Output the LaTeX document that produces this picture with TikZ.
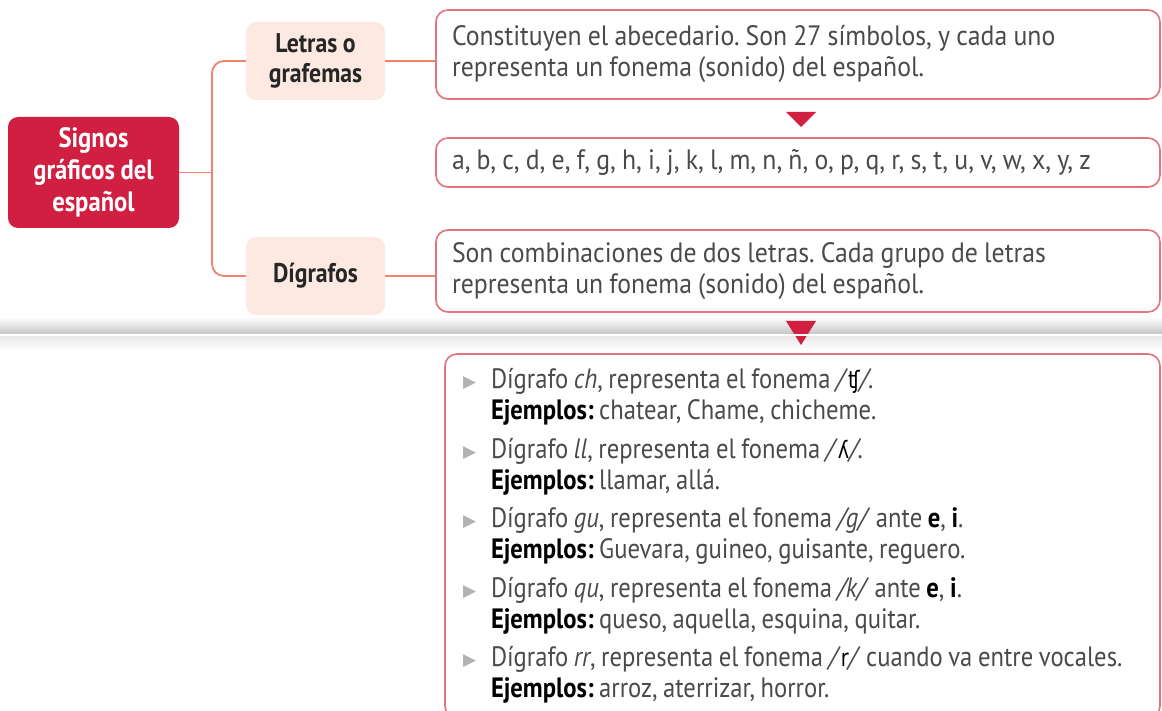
\documentclass[tikz,border=0pt]{standalone}
\usepackage{fontspec}
\setmainfont{PT Sans}[FakeStretch=0.88]
\newfontfamily\cajafont{PT Sans}[FakeStretch=0.92]
\newfontfamily\ipafont{DejaVu Sans}[FakeStretch=0.8]
\newfontfamily\symfont{DejaVu Sans}
\definecolor{signored}{HTML}{D11F41}
\definecolor{peach}{HTML}{FCE9E1}
\definecolor{boxline}{HTML}{E3737C}
\definecolor{salmon}{HTML}{F0826E}
\definecolor{bodygray}{HTML}{4A4A4A}
\newcommand{\fon}[1]{\textit{/}{\ipafont\color{black}\fontsize{24}{31}\selectfont#1}\textit{/}}
\newcommand{\vineta}{\makebox[28pt][l]{\color{gray!60}\symfont\fontsize{17}{17}\selectfont\raisebox{1pt}{▶}}}
\newcommand{\sangria}{\hspace*{28pt}}
\newcommand{\ej}{{\color{black}\bfseries Ejemplos:}}
\newcommand{\apretado}{\spaceskip=0.2em plus 0.04em minus 0.03em\relax}
\newcommand{\holgado}{\spaceskip=0.22em plus 0.04em minus 0.03em\relax}

\begin{document}
\frenchspacing
\begin{tikzpicture}[x=1pt, y=-1pt,
  font=\fontsize{28}{31}\selectfont,
  every node/.style={execute at begin node=\apretado},
  mainbox/.style={fill=signored, rounded corners=10pt, minimum width=171pt,
    minimum height=111pt, inner sep=0pt, text=white, align=center,
    font=\fontsize{28}{32}\selectfont\bfseries},
  catbox/.style={fill=peach, rounded corners=10pt, minimum width=139pt,
    minimum height=78pt, inner sep=0pt, text=black!85, align=center,
    font=\fontsize{27}{30}\selectfont\bfseries},
  textbox/.style={draw=boxline, line width=1.6pt, fill=white, rounded corners=12pt,
    inner xsep=16pt, inner ysep=0pt, text width=692pt, align=left, text=bodygray},
  ancho/.style={font=\cajafont\fontsize{28}{31}\selectfont, execute at begin node=\holgado},
  conn/.style={draw=salmon, line width=1.8pt},
  marca/.style={fill=signored}]
  \useasboundingbox (0,0) rectangle (1162,711);
  \fill[white] (0,0) rectangle (1162,711);

  % left part
  \node[mainbox] (signos) at (93.5,172.5) {Signos\\gráficos del\\español};
  \node[catbox] (letras) at (315.5,61) {Letras o\\grafemas};
  \node[catbox] (digrafos) at (315.5,276) {Dígrafos};
  \coordinate (split) at (212,172.5);
  \draw[conn] (signos.east) -- (split);
  \draw[conn, rounded corners=12pt] (letras.west) -| (split) |- (digrafos.west);

  % right boxes
  \node[textbox, ancho, minimum height=89pt] (defin) at (798,54.5)
    {Constituyen el abecedario. Son 27 símbolos, y cada uno\\
     representa un fonema (sonido) del español.};
  \node[textbox, ancho, minimum height=49pt] (abc) at (798,162.5)
    {a, b, c, d, e, f, g, h, i, j, k, l, m, n, ñ, o, p, q, r, s, t, u, v, w, x, y, z};
  \node[textbox, ancho, minimum height=82pt] (digdef) at (798,271)
    {Son combinaciones de dos letras. Cada grupo de letras\\
     representa un fonema (sonido) del español.};
  \draw[conn] (letras.east) -- (letras.east -| defin.west);
  \draw[conn] (digrafos.east) -- (digrafos.east -| digdef.west);
  \fill[marca] (786,112) -- (816,112) -- (801,127) -- cycle;

  % page seam
  \shade[top color=white, bottom color=gray!45] (0,317) rectangle (1162,334);
  \shade[top color=gray!18, bottom color=white] (0,336) rectangle (1162,350);
  \fill[marca] (786,321) -- (816,321) -- (801,345) -- cycle;
  \fill[white] (0,334) rectangle (1162,336.5);

  \node[textbox, inner xsep=18pt, text width=679pt, minimum height=364pt] (lista) at (802.5,536)
    {\mbox{\vineta Dígrafo \textit{ch}, representa el fonema \fon{ʧ}.}\\
     \mbox{\sangria\ej{} chatear, Chame, chicheme.}\\[7.5pt]
     \mbox{\vineta Dígrafo \textit{ll}, representa el fonema \fon{ʎ}.}\\
     \mbox{\sangria\ej{} llamar, allá.}\\[7.5pt]
     \mbox{\vineta Dígrafo \textit{gu}, representa el fonema \textit{/g/} ante {\color{black}\bfseries e}, {\color{black}\bfseries i}.}\\
     \mbox{\sangria\ej{} Guevara, guineo, guisante, reguero.}\\[7.5pt]
     \mbox{\vineta Dígrafo \textit{qu}, representa el fonema \textit{/k/} ante {\color{black}\bfseries e}, {\color{black}\bfseries i}.}\\
     \mbox{\sangria\ej{} queso, aquella, esquina, quitar.}\\[7.5pt]
     \mbox{\vineta Dígrafo \textit{rr}, representa el fonema \fon{r} cuando va entre vocales.}\\
     \mbox{\sangria\ej{} arroz, aterrizar, horror.}};
\end{tikzpicture}
\end{document}
